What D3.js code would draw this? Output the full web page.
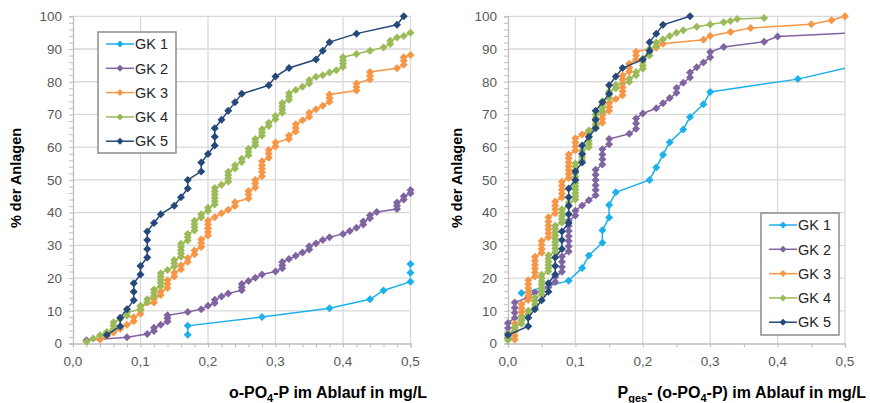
<!DOCTYPE html>
<html>
<head>
<meta charset="utf-8">
<script src="https://cdn.jsdelivr.net/npm/d3@7"></script>
<style>
  body { margin: 0; background: #fff; }
  svg { display: block; font-family: "Liberation Sans", Arial, sans-serif; }
</style>
</head>
<body>
<div id="chart"></div>
<script>
// series names and colours
const seriesNames = ["GK 1", "GK 2", "GK 3", "GK 4", "GK 5"];
const seriesColors = ["#1CB0EC", "#8064A2", "#F79646", "#9BBB59", "#24497A"];
const yTicks = [0, 10, 20, 30, 40, 50, 60, 70, 80, 90, 100];
const xTicks = [0, 0.1, 0.2, 0.3, 0.4, 0.5];

// left chart: o-PO4-P (x in mg/L, y in % der Anlagen)
const leftGK1 = [[0.17,2.7],[0.17,5.4],[0.28,8.1],[0.38,10.8],[0.44,13.5],[0.46,16.2],[0.50,18.9],[0.50,21.6],[0.50,24.3]];
const leftGK2 = [[0.02,1.0],[0.08,1.9],[0.11,2.9],[0.12,3.8],[0.12,4.8],[0.13,5.7],[0.14,6.7],[0.14,7.7],[0.14,8.6],[0.17,9.6],[0.19,10.5],[0.20,11.5],[0.21,12.4],[0.21,13.4],[0.22,14.4],[0.23,15.3],[0.25,16.3],[0.25,17.2],[0.25,18.2],[0.26,19.1],[0.27,20.1],[0.28,21.1],[0.30,22.0],[0.31,23.0],[0.31,23.9],[0.31,24.9],[0.32,25.8],[0.33,26.8],[0.34,27.8],[0.35,28.7],[0.35,29.7],[0.36,30.6],[0.37,31.6],[0.38,32.5],[0.40,33.5],[0.41,34.4],[0.42,35.4],[0.43,36.4],[0.43,37.3],[0.44,38.3],[0.44,39.2],[0.45,40.2],[0.48,41.1],[0.48,42.1],[0.48,43.1],[0.49,44.0],[0.49,45.0],[0.50,45.9],[0.50,46.9]];
const leftGK3 = [[0.04,1.2],[0.05,2.3],[0.06,3.4],[0.07,4.5],[0.08,5.7],[0.09,6.8],[0.09,8.0],[0.10,9.1],[0.10,10.2],[0.10,11.4],[0.12,12.5],[0.12,13.6],[0.13,14.8],[0.13,15.9],[0.14,17.0],[0.14,18.2],[0.14,19.3],[0.15,20.5],[0.15,21.6],[0.16,22.7],[0.16,23.9],[0.17,25.0],[0.17,26.1],[0.18,27.3],[0.18,28.4],[0.19,29.5],[0.19,30.7],[0.19,31.8],[0.20,33.0],[0.20,34.1],[0.20,35.2],[0.20,36.4],[0.20,37.5],[0.21,38.6],[0.22,39.8],[0.23,40.9],[0.24,42.0],[0.24,43.2],[0.26,44.3],[0.26,45.5],[0.26,46.6],[0.27,47.7],[0.27,48.9],[0.27,50.0],[0.28,51.1],[0.28,52.3],[0.28,53.4],[0.28,54.5],[0.28,55.7],[0.29,56.8],[0.29,58.0],[0.29,59.1],[0.30,60.2],[0.30,61.4],[0.32,62.5],[0.32,63.6],[0.33,64.8],[0.33,65.9],[0.33,67.0],[0.34,68.2],[0.35,69.3],[0.35,70.5],[0.36,71.6],[0.37,72.7],[0.38,73.9],[0.38,75.0],[0.38,76.1],[0.42,77.3],[0.42,78.4],[0.42,79.5],[0.44,80.7],[0.44,81.8],[0.44,83.0],[0.48,84.1],[0.49,85.2],[0.49,86.4],[0.49,87.5],[0.50,88.2]];
const leftGK4 = [[0.02,0.5],[0.03,1.5],[0.04,2.5],[0.05,3.5],[0.06,4.5],[0.06,5.5],[0.06,6.5],[0.07,7.5],[0.08,8.5],[0.08,9.5],[0.10,10.5],[0.10,11.5],[0.11,12.5],[0.11,13.5],[0.12,14.5],[0.12,15.5],[0.12,16.5],[0.13,17.5],[0.13,18.5],[0.13,19.5],[0.13,20.5],[0.13,21.5],[0.14,22.5],[0.15,23.5],[0.15,24.5],[0.15,25.5],[0.16,26.5],[0.16,27.5],[0.16,28.5],[0.16,29.5],[0.16,30.5],[0.17,31.5],[0.17,32.5],[0.17,33.5],[0.18,34.5],[0.18,35.5],[0.18,36.5],[0.18,37.5],[0.19,38.5],[0.19,39.5],[0.20,40.5],[0.20,41.5],[0.21,42.5],[0.21,43.5],[0.21,44.5],[0.21,45.5],[0.21,46.5],[0.21,47.5],[0.22,48.5],[0.23,49.5],[0.23,50.5],[0.23,51.5],[0.23,52.5],[0.24,53.5],[0.24,54.5],[0.25,55.5],[0.25,56.5],[0.26,57.5],[0.26,58.5],[0.26,59.5],[0.27,60.5],[0.27,61.5],[0.27,62.5],[0.28,63.5],[0.28,64.5],[0.28,65.5],[0.29,66.5],[0.29,67.5],[0.30,68.5],[0.30,69.5],[0.31,70.5],[0.31,71.5],[0.31,72.5],[0.31,73.5],[0.32,74.5],[0.32,75.5],[0.32,76.5],[0.33,77.5],[0.34,78.5],[0.35,79.5],[0.35,80.5],[0.36,81.5],[0.37,82.0],[0.38,82.8],[0.39,83.5],[0.40,84.5],[0.40,85.5],[0.40,86.5],[0.40,87.5],[0.42,88.5],[0.44,89.5],[0.46,90.5],[0.47,91.5],[0.47,92.5],[0.48,93.5],[0.49,94.0],[0.50,95.0]];
const leftGK5 = [[0.05,2.6],[0.07,5.3],[0.07,7.9],[0.08,10.5],[0.09,13.2],[0.09,15.8],[0.09,18.4],[0.10,21.1],[0.10,23.7],[0.11,26.3],[0.11,28.9],[0.11,31.6],[0.11,34.2],[0.12,36.8],[0.13,39.5],[0.15,42.1],[0.16,44.7],[0.17,47.4],[0.17,50.0],[0.19,52.6],[0.19,55.3],[0.20,57.9],[0.21,60.5],[0.21,63.2],[0.21,65.8],[0.22,68.4],[0.23,71.1],[0.24,73.7],[0.25,76.3],[0.29,78.9],[0.30,81.6],[0.32,84.2],[0.36,86.8],[0.37,89.5],[0.38,92.1],[0.42,94.7],[0.48,97.4],[0.49,100]];

// right chart: Pges - (o-PO4-P)
const rightGK1 = [[0.02,15.4],[0.09,19.2],[0.11,23.1],[0.12,26.9],[0.14,30.8],[0.14,34.6],[0.15,38.5],[0.15,42.3],[0.16,46.2],[0.21,50.0],[0.22,53.8],[0.23,57.7],[0.24,61.5],[0.26,65.4],[0.27,69.2],[0.29,73.1],[0.30,76.9],[0.43,80.8],[0.51,84.6]];
const rightGK2 = [[0.00,1.6],[0.00,3.1],[0.00,4.7],[0.00,6.3],[0.01,7.8],[0.01,9.4],[0.01,10.9],[0.01,12.5],[0.03,14.1],[0.04,15.6],[0.06,17.2],[0.07,18.8],[0.07,20.3],[0.08,21.9],[0.08,23.4],[0.08,25.0],[0.08,26.6],[0.09,28.1],[0.09,29.7],[0.09,31.3],[0.09,32.8],[0.09,34.4],[0.09,35.9],[0.09,37.5],[0.10,39.1],[0.10,40.6],[0.11,42.2],[0.12,43.8],[0.13,45.3],[0.13,46.9],[0.13,48.4],[0.13,50.0],[0.13,51.6],[0.13,53.1],[0.14,54.7],[0.14,56.3],[0.14,57.8],[0.14,59.4],[0.15,60.9],[0.15,62.5],[0.18,64.1],[0.19,65.6],[0.19,67.2],[0.19,68.8],[0.20,70.3],[0.22,71.9],[0.23,73.4],[0.24,75.0],[0.25,76.6],[0.25,78.1],[0.26,79.7],[0.27,81.3],[0.27,82.8],[0.28,84.4],[0.29,85.9],[0.30,87.5],[0.30,89.1],[0.32,90.6],[0.38,92.2],[0.40,93.8],[0.55,95.3]];
const rightGK3 = [[0.01,1.2],[0.01,2.4],[0.01,3.6],[0.01,4.8],[0.01,6.0],[0.02,7.2],[0.02,8.4],[0.02,9.6],[0.02,10.8],[0.02,12.0],[0.03,13.3],[0.03,14.5],[0.03,15.7],[0.03,16.9],[0.03,18.1],[0.03,19.3],[0.04,20.5],[0.04,21.7],[0.04,22.9],[0.04,24.1],[0.04,25.3],[0.04,26.5],[0.05,27.7],[0.05,28.9],[0.05,30.1],[0.05,31.3],[0.06,32.5],[0.06,33.7],[0.06,34.9],[0.06,36.1],[0.06,37.3],[0.06,38.6],[0.07,39.8],[0.07,41.0],[0.07,42.2],[0.07,43.4],[0.08,44.6],[0.08,45.8],[0.08,47.0],[0.08,48.2],[0.08,49.4],[0.09,50.6],[0.09,51.8],[0.09,53.0],[0.09,54.2],[0.09,55.4],[0.09,56.6],[0.09,57.8],[0.10,59.0],[0.10,60.2],[0.10,61.4],[0.10,62.7],[0.11,63.9],[0.12,65.1],[0.13,66.3],[0.14,67.5],[0.14,68.7],[0.14,69.9],[0.15,71.1],[0.15,72.3],[0.15,73.5],[0.16,74.7],[0.17,75.9],[0.17,77.1],[0.17,78.3],[0.17,79.5],[0.17,80.7],[0.17,81.9],[0.18,83.1],[0.18,84.3],[0.18,85.5],[0.19,86.7],[0.19,88.0],[0.19,89.2],[0.22,90.4],[0.23,91.6],[0.29,92.8],[0.30,94.0],[0.33,95.2],[0.36,96.4],[0.45,97.6],[0.48,98.8],[0.50,100]];
const rightGK4 = [[0.00,1.0],[0.00,2.0],[0.00,3.0],[0.01,4.0],[0.01,5.0],[0.02,6.0],[0.02,7.0],[0.02,8.0],[0.03,9.0],[0.03,10.0],[0.04,11.0],[0.04,12.0],[0.04,13.0],[0.04,14.0],[0.05,15.0],[0.05,16.0],[0.05,17.0],[0.05,18.0],[0.05,19.0],[0.05,20.0],[0.05,21.0],[0.06,22.0],[0.06,23.0],[0.06,24.0],[0.06,25.0],[0.06,26.0],[0.06,27.0],[0.07,28.0],[0.07,29.0],[0.07,30.0],[0.07,31.0],[0.07,32.0],[0.07,33.0],[0.07,34.0],[0.07,35.0],[0.07,36.0],[0.08,37.0],[0.08,38.0],[0.08,39.0],[0.08,40.0],[0.08,41.0],[0.09,42.0],[0.09,43.0],[0.10,44.0],[0.10,45.0],[0.10,46.0],[0.10,47.0],[0.10,48.0],[0.10,49.0],[0.10,50.0],[0.10,51.0],[0.10,52.0],[0.10,53.0],[0.10,54.0],[0.10,55.0],[0.11,56.0],[0.11,57.0],[0.11,58.0],[0.11,59.0],[0.12,60.0],[0.12,61.0],[0.12,62.0],[0.12,63.0],[0.12,64.0],[0.12,65.0],[0.13,66.0],[0.13,67.0],[0.13,68.0],[0.13,69.0],[0.13,70.0],[0.14,71.0],[0.14,72.0],[0.14,73.0],[0.14,74.0],[0.15,75.0],[0.15,76.0],[0.15,77.0],[0.16,78.0],[0.16,79.0],[0.18,80.0],[0.18,81.0],[0.19,82.0],[0.19,83.0],[0.20,84.0],[0.20,85.0],[0.20,86.0],[0.20,87.0],[0.21,88.0],[0.21,89.0],[0.21,90.0],[0.22,91.0],[0.22,92.0],[0.23,93.0],[0.24,94.0],[0.25,95.0],[0.26,95.7],[0.28,96.8],[0.30,97.5],[0.32,98.2],[0.33,98.6],[0.34,99.2],[0.38,99.5]];
const rightGK5 = [[0.00,2.6],[0.03,5.3],[0.03,7.9],[0.04,10.5],[0.05,13.2],[0.06,15.8],[0.06,18.4],[0.07,21.1],[0.07,23.7],[0.07,26.3],[0.08,28.9],[0.08,31.6],[0.08,34.2],[0.09,36.8],[0.09,39.5],[0.09,42.1],[0.09,44.7],[0.09,47.4],[0.10,50.0],[0.10,52.6],[0.11,55.3],[0.11,57.9],[0.11,60.5],[0.12,63.2],[0.13,65.8],[0.13,68.4],[0.13,71.1],[0.14,73.7],[0.15,76.3],[0.15,78.9],[0.16,81.6],[0.17,84.2],[0.20,86.8],[0.21,89.5],[0.21,92.1],[0.22,94.7],[0.23,97.4],[0.27,100]];

const width = 870, height = 403;
const plotTop = 16.3, plotBottom = 343.5;

const svg = d3.select("#chart").append("svg")
    .attr("width", width)
    .attr("height", height);

const panels = [
    { id: "l", x0: 73, x1: 410.5, minorStep: 0.02, series: [leftGK1, leftGK2, leftGK3, leftGK4, leftGK5],
      legend: { x: 98, y: 32, w: 78, h: 121 }, yTitleX: 21,
      xTitle: [["o-PO", 0], ["4", 1], ["-P im Ablauf in mg/L", 0]], xTitleEnd: 427 },
    { id: "r", x0: 508, x1: 845, minorStep: 0.05, series: [rightGK1, rightGK2, rightGK3, rightGK4, rightGK5],
      legend: { x: 761, y: 213, w: 78, h: 122 }, yTitleX: 462,
      xTitle: [["P", 0], ["ges", 1], ["- (o-PO", 0], ["4", 1], ["-P) im Ablauf in mg/L", 0]], xTitleEnd: 866 }
];

function diamond(r) {
    return `M0,${-r}L${r},0L0,${r}L${-r},0Z`;
}

panels.forEach(p => {
    const x = d3.scaleLinear().domain([0, 0.5]).range([p.x0, p.x1]);
    const y = d3.scaleLinear().domain([0, 100]).range([plotBottom, plotTop]);
    const g = svg.append("g");

    // gridlines
    g.append("g").selectAll("line").data(yTicks.slice(1)).enter().append("line")
        .attr("x1", p.x0).attr("x2", p.x1)
        .attr("y1", d => y(d)).attr("y2", d => y(d))
        .attr("stroke", "#d9d9d9").attr("stroke-width", 1.3);
    g.append("g").selectAll("line").data(xTicks.slice(1)).enter().append("line")
        .attr("x1", d => x(d)).attr("x2", d => x(d))
        .attr("y1", plotTop).attr("y2", plotBottom)
        .attr("stroke", "#d9d9d9").attr("stroke-width", 1.3);

    // y axis
    const yAxis = g.append("g").attr("transform", `translate(${p.x0},0)`)
        .call(d3.axisLeft(y).tickValues(d3.range(0, 101, 2)).tickSize(4).tickFormat(""));
    yAxis.select(".domain").attr("stroke", "#bfbfbf").attr("stroke-width", 1.3);
    yAxis.selectAll(".tick line").attr("stroke", "#bfbfbf");
    g.append("g").selectAll("text").data(yTicks).enter().append("text")
        .attr("x", p.x0 - 11).attr("y", d => y(d)).attr("dy", "0.36em")
        .attr("text-anchor", "end").attr("font-size", 13.5).attr("fill", "#595959")
        .text(d => d);

    // x axis
    const minor = d3.range(0, 0.5001, p.minorStep);
    const xAxis = g.append("g").attr("transform", `translate(0,${plotBottom})`)
        .call(d3.axisBottom(x).tickValues(minor).tickSize(4).tickFormat(""));
    xAxis.select(".domain").attr("stroke", "#bfbfbf").attr("stroke-width", 1.3);
    xAxis.selectAll(".tick line").attr("stroke", "#bfbfbf");
    g.append("g").selectAll("text").data(xTicks).enter().append("text")
        .attr("x", d => x(d)).attr("y", 366)
        .attr("text-anchor", "middle").attr("font-size", 13.5).attr("fill", "#595959")
        .text(d => d3.format(".1f")(d).replace(".", ","));

    // axis titles
    g.append("text")
        .attr("transform", `translate(${p.yTitleX},178) rotate(-90)`)
        .attr("text-anchor", "middle").attr("font-size", 14.5).attr("font-weight", "bold")
        .attr("fill", "#000").text("% der Anlagen");
    const xt = g.append("text").attr("x", p.xTitleEnd).attr("y", 398)
        .attr("text-anchor", "end").attr("font-size", 16).attr("font-weight", "bold").attr("fill", "#000");
    let shifted = 0;
    p.xTitle.forEach(([t, sub]) => {
        const dy = sub ? 4 - shifted : -shifted;
        shifted = sub ? 4 : 0;
        xt.append("tspan").attr("dy", dy).attr("font-size", sub ? 11 : 16).text(t);
    });

    // series
    svg.append("clipPath").attr("id", "clip-" + p.id).append("rect")
        .attr("x", p.x0).attr("y", plotTop - 6).attr("width", p.x1 - p.x0).attr("height", plotBottom - plotTop + 12);
    const line = d3.line().x(d => x(d[0])).y(d => y(d[1]));
    p.series.forEach((data, i) => {
        const sg = g.append("g");
        sg.append("path").datum(data)
            .attr("d", line).attr("fill", "none")
            .attr("stroke", seriesColors[i]).attr("stroke-width", 1.5)
            .attr("clip-path", `url(#clip-${p.id})`);
        sg.selectAll("path.m").data(data.filter(d => d[0] <= 0.5)).enter().append("path")
            .attr("class", "m")
            .attr("d", diamond(4))
            .attr("transform", d => `translate(${x(d[0])},${y(d[1])})`)
            .attr("fill", seriesColors[i]);
    });

    // legend
    const L = p.legend;
    const lg = g.append("g").attr("transform", `translate(${L.x},${L.y})`);
    lg.append("rect").attr("width", L.w).attr("height", L.h)
        .attr("fill", "#fff").attr("stroke", "#8c8c8c").attr("stroke-width", 1.5);
    seriesNames.forEach((name, i) => {
        const yy = 12 + i * 24.3;
        lg.append("line").attr("x1", 8).attr("x2", 36).attr("y1", yy).attr("y2", yy)
            .attr("stroke", seriesColors[i]).attr("stroke-width", 1.5);
        lg.append("path").attr("d", diamond(3.5))
            .attr("transform", `translate(22,${yy})`).attr("fill", seriesColors[i]);
        lg.append("text").attr("x", 37).attr("y", yy).attr("dy", "0.36em")
            .attr("font-size", 14.5).attr("fill", "#262626").text(name);
    });
});
</script>
</body>
</html>
